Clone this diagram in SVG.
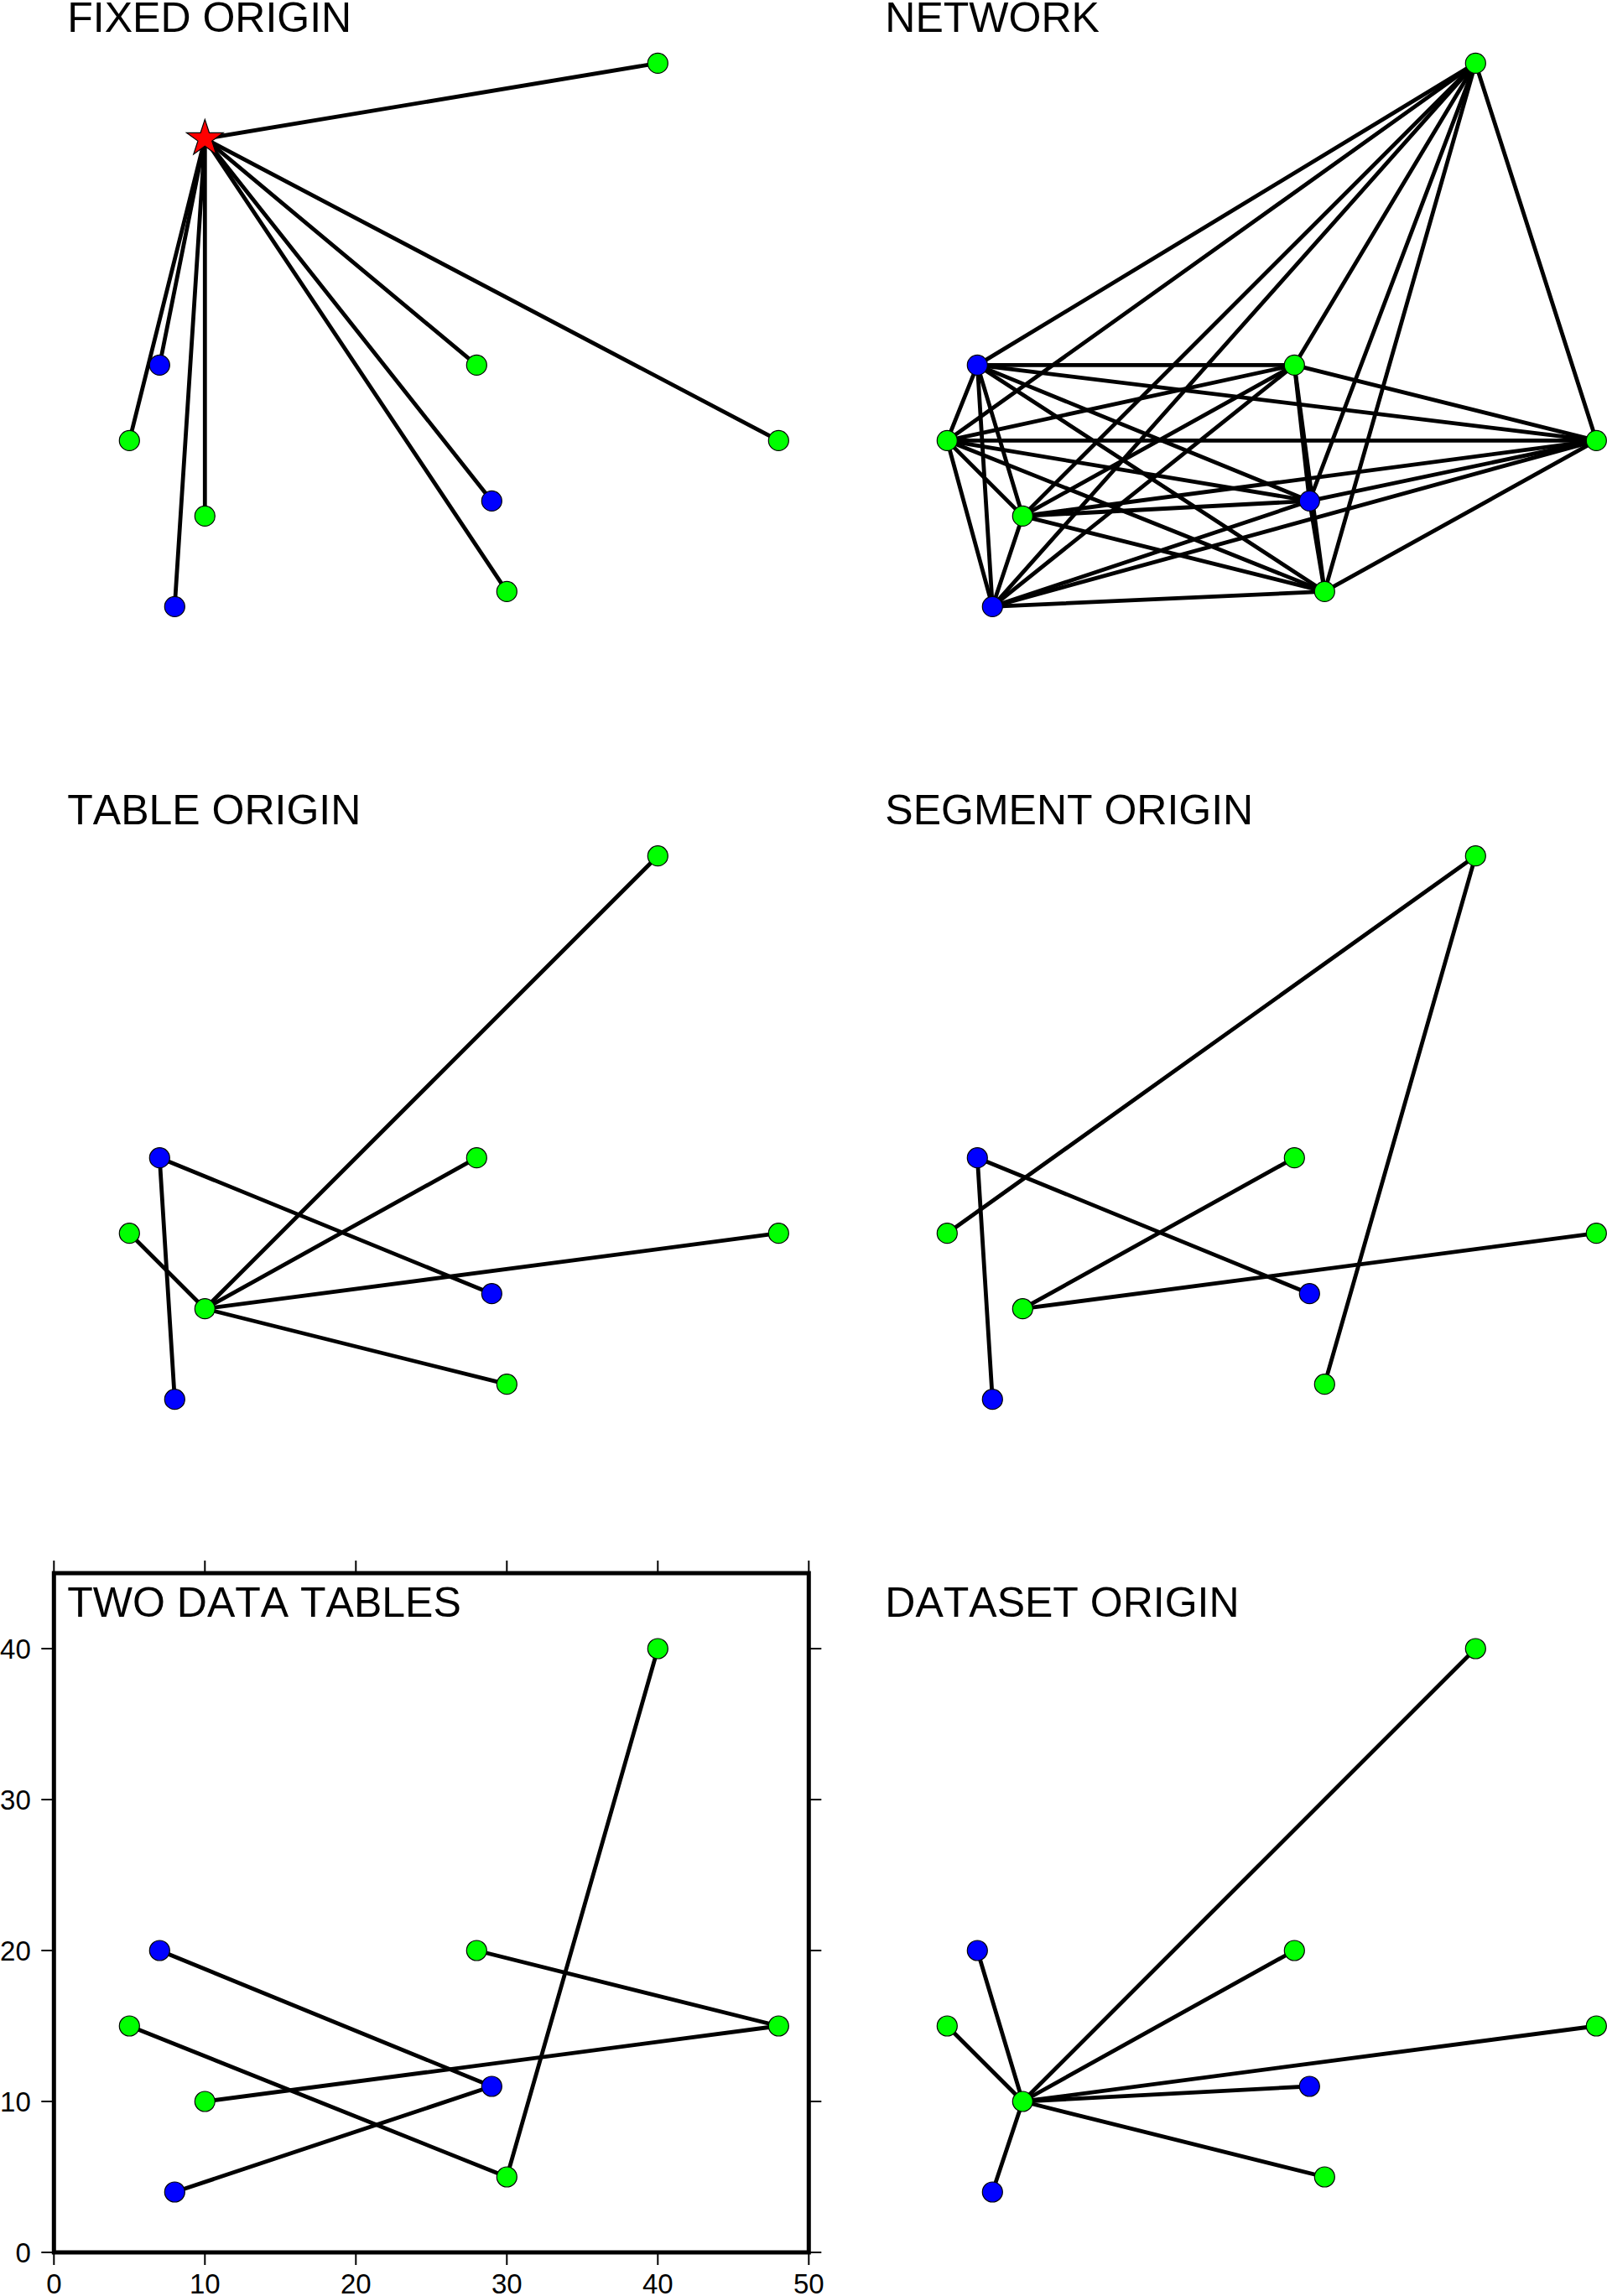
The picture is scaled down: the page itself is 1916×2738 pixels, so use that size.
<svg xmlns="http://www.w3.org/2000/svg" width="1916" height="2738" viewBox="0 0 1916 2738">
<style>
  .bg { fill: #ffffff; }
  .edge { stroke: #000000; stroke-width: 4.8; fill: none; stroke-linecap: round; }
  .g { fill: #00ff00; stroke: #000000; stroke-width: 1.2; }
  .b { fill: #0000ff; stroke: #000000; stroke-width: 1.2; }
  .star { fill: #ff0000; stroke: #000000; stroke-width: 1.2; stroke-linejoin: miter; }
  .title { font-family: "Liberation Sans", Arial, Helvetica, sans-serif; font-size: 50px; fill: #000000; font-kerning: none; }
  .lab { font-family: "Liberation Sans", Arial, Helvetica, sans-serif; font-size: 33px; fill: #000000; font-kerning: none; }
  .frame { fill: none; stroke: #000000; stroke-width: 5; stroke-linecap: square; }
  .tick { stroke: #000000; stroke-width: 2; }
</style>
<rect class="bg" x="0" y="0" width="1916" height="2738"/>

<!-- Panel 1: FIXED ORIGIN -->
<g id="panel-fixed" transform="translate(64.3,795.4)">
  <text class="title" x="16" y="-757.7">FIXED ORIGIN</text>
  <g id="fixed-connectors">
    <line class="edge" x1="180" y1="-630" x2="720" y2="-720"/>
    <line class="edge" x1="180" y1="-630" x2="504" y2="-360"/>
    <line class="edge" x1="180" y1="-630" x2="864" y2="-270"/>
    <line class="edge" x1="180" y1="-630" x2="90" y2="-270"/>
    <line class="edge" x1="180" y1="-630" x2="180" y2="-180"/>
    <line class="edge" x1="180" y1="-630" x2="540" y2="-90"/>
    <line class="edge" x1="180" y1="-630" x2="126" y2="-360"/>
    <line class="edge" x1="180" y1="-630" x2="522" y2="-198"/>
    <line class="edge" x1="180" y1="-630" x2="144" y2="-72"/>
  </g>
  <g id="fixed-nodes">
    <g id="fixed-g1"><circle class="g" cx="720" cy="-720" r="12"/></g>
    <g id="fixed-g2"><circle class="g" cx="504" cy="-360" r="12"/></g>
    <g id="fixed-g3"><circle class="g" cx="864" cy="-270" r="12"/></g>
    <g id="fixed-g4"><circle class="g" cx="90" cy="-270" r="12"/></g>
    <g id="fixed-g5"><circle class="g" cx="180" cy="-180" r="12"/></g>
    <g id="fixed-g6"><circle class="g" cx="540" cy="-90" r="12"/></g>
    <g id="fixed-b1"><circle class="b" cx="126" cy="-360" r="12"/></g>
    <g id="fixed-b2"><circle class="b" cx="522" cy="-198" r="12"/></g>
    <g id="fixed-b3"><circle class="b" cx="144" cy="-72" r="12"/></g>
    <g id="fixed-origin" transform="translate(180,-630)">
      <path class="star" d="M0,-23 L5.17,-7.12 L21.87,-7.11 L8.37,2.72 L13.52,18.61 L0,8.8 L-13.52,18.61 L-8.37,2.72 L-21.87,-7.11 L-5.17,-7.12 Z"/>
    </g>
  </g>
</g>

<!-- Panel 2: NETWORK -->
<g id="panel-network" transform="translate(1039.3,795.4)">
  <text class="title" x="16" y="-757.7">NETWORK</text>
  <g id="network-connectors">
    <line class="edge" x1="720" y1="-720" x2="504" y2="-360"/>
    <line class="edge" x1="720" y1="-720" x2="864" y2="-270"/>
    <line class="edge" x1="720" y1="-720" x2="90" y2="-270"/>
    <line class="edge" x1="720" y1="-720" x2="180" y2="-180"/>
    <line class="edge" x1="720" y1="-720" x2="540" y2="-90"/>
    <line class="edge" x1="720" y1="-720" x2="126" y2="-360"/>
    <line class="edge" x1="720" y1="-720" x2="522" y2="-198"/>
    <line class="edge" x1="720" y1="-720" x2="144" y2="-72"/>
    <line class="edge" x1="504" y1="-360" x2="864" y2="-270"/>
    <line class="edge" x1="504" y1="-360" x2="90" y2="-270"/>
    <line class="edge" x1="504" y1="-360" x2="180" y2="-180"/>
    <line class="edge" x1="504" y1="-360" x2="540" y2="-90"/>
    <line class="edge" x1="504" y1="-360" x2="126" y2="-360"/>
    <line class="edge" x1="504" y1="-360" x2="522" y2="-198"/>
    <line class="edge" x1="504" y1="-360" x2="144" y2="-72"/>
    <line class="edge" x1="864" y1="-270" x2="90" y2="-270"/>
    <line class="edge" x1="864" y1="-270" x2="180" y2="-180"/>
    <line class="edge" x1="864" y1="-270" x2="540" y2="-90"/>
    <line class="edge" x1="864" y1="-270" x2="126" y2="-360"/>
    <line class="edge" x1="864" y1="-270" x2="522" y2="-198"/>
    <line class="edge" x1="864" y1="-270" x2="144" y2="-72"/>
    <line class="edge" x1="90" y1="-270" x2="180" y2="-180"/>
    <line class="edge" x1="90" y1="-270" x2="540" y2="-90"/>
    <line class="edge" x1="90" y1="-270" x2="126" y2="-360"/>
    <line class="edge" x1="90" y1="-270" x2="522" y2="-198"/>
    <line class="edge" x1="90" y1="-270" x2="144" y2="-72"/>
    <line class="edge" x1="180" y1="-180" x2="540" y2="-90"/>
    <line class="edge" x1="180" y1="-180" x2="126" y2="-360"/>
    <line class="edge" x1="180" y1="-180" x2="522" y2="-198"/>
    <line class="edge" x1="180" y1="-180" x2="144" y2="-72"/>
    <line class="edge" x1="540" y1="-90" x2="126" y2="-360"/>
    <line class="edge" x1="540" y1="-90" x2="522" y2="-198"/>
    <line class="edge" x1="540" y1="-90" x2="144" y2="-72"/>
    <line class="edge" x1="126" y1="-360" x2="522" y2="-198"/>
    <line class="edge" x1="126" y1="-360" x2="144" y2="-72"/>
    <line class="edge" x1="522" y1="-198" x2="144" y2="-72"/>
  </g>
  <g id="network-nodes">
    <g id="network-g1"><circle class="g" cx="720" cy="-720" r="12"/></g>
    <g id="network-g2"><circle class="g" cx="504" cy="-360" r="12"/></g>
    <g id="network-g3"><circle class="g" cx="864" cy="-270" r="12"/></g>
    <g id="network-g4"><circle class="g" cx="90" cy="-270" r="12"/></g>
    <g id="network-g5"><circle class="g" cx="180" cy="-180" r="12"/></g>
    <g id="network-g6"><circle class="g" cx="540" cy="-90" r="12"/></g>
    <g id="network-b1"><circle class="b" cx="126" cy="-360" r="12"/></g>
    <g id="network-b2"><circle class="b" cx="522" cy="-198" r="12"/></g>
    <g id="network-b3"><circle class="b" cx="144" cy="-72" r="12"/></g>
  </g>
</g>

<!-- Panel 3: TABLE ORIGIN -->
<g id="panel-table" transform="translate(64.3,1740.7)">
  <text class="title" x="16" y="-757.7">TABLE ORIGIN</text>
  <g id="table-connectors">
    <line class="edge" x1="180" y1="-180" x2="720" y2="-720"/>
    <line class="edge" x1="180" y1="-180" x2="504" y2="-360"/>
    <line class="edge" x1="180" y1="-180" x2="864" y2="-270"/>
    <line class="edge" x1="180" y1="-180" x2="90" y2="-270"/>
    <line class="edge" x1="180" y1="-180" x2="540" y2="-90"/>
    <line class="edge" x1="126" y1="-360" x2="522" y2="-198"/>
    <line class="edge" x1="126" y1="-360" x2="144" y2="-72"/>
  </g>
  <g id="table-nodes">
    <g id="table-g1"><circle class="g" cx="720" cy="-720" r="12"/></g>
    <g id="table-g2"><circle class="g" cx="504" cy="-360" r="12"/></g>
    <g id="table-g3"><circle class="g" cx="864" cy="-270" r="12"/></g>
    <g id="table-g4"><circle class="g" cx="90" cy="-270" r="12"/></g>
    <g id="table-g5"><circle class="g" cx="180" cy="-180" r="12"/></g>
    <g id="table-g6"><circle class="g" cx="540" cy="-90" r="12"/></g>
    <g id="table-b1"><circle class="b" cx="126" cy="-360" r="12"/></g>
    <g id="table-b2"><circle class="b" cx="522" cy="-198" r="12"/></g>
    <g id="table-b3"><circle class="b" cx="144" cy="-72" r="12"/></g>
  </g>
</g>

<!-- Panel 4: SEGMENT ORIGIN -->
<g id="panel-segment" transform="translate(1039.3,1740.7)">
  <text class="title" x="16" y="-757.7">SEGMENT ORIGIN</text>
  <g id="segment-connectors">
    <line class="edge" x1="720" y1="-720" x2="90" y2="-270"/>
    <line class="edge" x1="720" y1="-720" x2="540" y2="-90"/>
    <line class="edge" x1="180" y1="-180" x2="504" y2="-360"/>
    <line class="edge" x1="180" y1="-180" x2="864" y2="-270"/>
    <line class="edge" x1="126" y1="-360" x2="522" y2="-198"/>
    <line class="edge" x1="126" y1="-360" x2="144" y2="-72"/>
  </g>
  <g id="segment-nodes">
    <g id="segment-g1"><circle class="g" cx="720" cy="-720" r="12"/></g>
    <g id="segment-g2"><circle class="g" cx="504" cy="-360" r="12"/></g>
    <g id="segment-g3"><circle class="g" cx="864" cy="-270" r="12"/></g>
    <g id="segment-g4"><circle class="g" cx="90" cy="-270" r="12"/></g>
    <g id="segment-g5"><circle class="g" cx="180" cy="-180" r="12"/></g>
    <g id="segment-g6"><circle class="g" cx="540" cy="-90" r="12"/></g>
    <g id="segment-b1"><circle class="b" cx="126" cy="-360" r="12"/></g>
    <g id="segment-b2"><circle class="b" cx="522" cy="-198" r="12"/></g>
    <g id="segment-b3"><circle class="b" cx="144" cy="-72" r="12"/></g>
  </g>
</g>

<!-- Panel 5: TWO DATA TABLES (with axes) -->
<g id="panel-two" transform="translate(64.3,2686)">
  <g id="two-axes">
    <rect class="frame" x="0" y="-810" width="900" height="810"/>
    <g class="tick">
      <line x1="0" y1="0" x2="0" y2="15"/>
      <line x1="180" y1="0" x2="180" y2="15"/>
      <line x1="360" y1="0" x2="360" y2="15"/>
      <line x1="540" y1="0" x2="540" y2="15"/>
      <line x1="720" y1="0" x2="720" y2="15"/>
      <line x1="900" y1="0" x2="900" y2="15"/>
      <line x1="0" y1="-810" x2="0" y2="-825"/>
      <line x1="180" y1="-810" x2="180" y2="-825"/>
      <line x1="360" y1="-810" x2="360" y2="-825"/>
      <line x1="540" y1="-810" x2="540" y2="-825"/>
      <line x1="720" y1="-810" x2="720" y2="-825"/>
      <line x1="900" y1="-810" x2="900" y2="-825"/>
      <line x1="0" y1="0" x2="-15" y2="0"/>
      <line x1="0" y1="-180" x2="-15" y2="-180"/>
      <line x1="0" y1="-360" x2="-15" y2="-360"/>
      <line x1="0" y1="-540" x2="-15" y2="-540"/>
      <line x1="0" y1="-720" x2="-15" y2="-720"/>
      <line x1="900" y1="0" x2="915" y2="0"/>
      <line x1="900" y1="-180" x2="915" y2="-180"/>
      <line x1="900" y1="-360" x2="915" y2="-360"/>
      <line x1="900" y1="-540" x2="915" y2="-540"/>
      <line x1="900" y1="-720" x2="915" y2="-720"/>
    </g>
    <g class="lab" text-anchor="middle">
      <text x="0" y="49">0</text>
      <text x="180" y="49">10</text>
      <text x="360" y="49">20</text>
      <text x="540" y="49">30</text>
      <text x="720" y="49">40</text>
      <text x="900" y="49">50</text>
    </g>
    <g class="lab" text-anchor="end">
      <text x="-27.5" y="11.8">0</text>
      <text x="-27.5" y="-168.2">10</text>
      <text x="-27.5" y="-348.2">20</text>
      <text x="-27.5" y="-528.2">30</text>
      <text x="-27.5" y="-708.2">40</text>
    </g>
  </g>
  <text class="title" x="16" y="-757.7">TWO DATA TABLES</text>
  <g id="two-connectors">
    <line class="edge" x1="126" y1="-360" x2="522" y2="-198"/>
    <line class="edge" x1="90" y1="-270" x2="540" y2="-90"/>
    <line class="edge" x1="180" y1="-180" x2="864" y2="-270"/>
    <line class="edge" x1="144" y1="-72" x2="522" y2="-198"/>
    <line class="edge" x1="504" y1="-360" x2="864" y2="-270"/>
    <line class="edge" x1="540" y1="-90" x2="720" y2="-720"/>
  </g>
  <g id="two-nodes">
    <g id="two-g1"><circle class="g" cx="720" cy="-720" r="12"/></g>
    <g id="two-g2"><circle class="g" cx="504" cy="-360" r="12"/></g>
    <g id="two-g3"><circle class="g" cx="864" cy="-270" r="12"/></g>
    <g id="two-g4"><circle class="g" cx="90" cy="-270" r="12"/></g>
    <g id="two-g5"><circle class="g" cx="180" cy="-180" r="12"/></g>
    <g id="two-g6"><circle class="g" cx="540" cy="-90" r="12"/></g>
    <g id="two-b1"><circle class="b" cx="126" cy="-360" r="12"/></g>
    <g id="two-b2"><circle class="b" cx="522" cy="-198" r="12"/></g>
    <g id="two-b3"><circle class="b" cx="144" cy="-72" r="12"/></g>
  </g>
</g>

<!-- Panel 6: DATASET ORIGIN -->
<g id="panel-dataset" transform="translate(1039.3,2686)">
  <text class="title" x="16" y="-757.7">DATASET ORIGIN</text>
  <g id="dataset-connectors">
    <line class="edge" x1="180" y1="-180" x2="720" y2="-720"/>
    <line class="edge" x1="180" y1="-180" x2="504" y2="-360"/>
    <line class="edge" x1="180" y1="-180" x2="864" y2="-270"/>
    <line class="edge" x1="180" y1="-180" x2="90" y2="-270"/>
    <line class="edge" x1="180" y1="-180" x2="540" y2="-90"/>
    <line class="edge" x1="180" y1="-180" x2="126" y2="-360"/>
    <line class="edge" x1="180" y1="-180" x2="522" y2="-198"/>
    <line class="edge" x1="180" y1="-180" x2="144" y2="-72"/>
  </g>
  <g id="dataset-nodes">
    <g id="dataset-g1"><circle class="g" cx="720" cy="-720" r="12"/></g>
    <g id="dataset-g2"><circle class="g" cx="504" cy="-360" r="12"/></g>
    <g id="dataset-g3"><circle class="g" cx="864" cy="-270" r="12"/></g>
    <g id="dataset-g4"><circle class="g" cx="90" cy="-270" r="12"/></g>
    <g id="dataset-g5"><circle class="g" cx="180" cy="-180" r="12"/></g>
    <g id="dataset-g6"><circle class="g" cx="540" cy="-90" r="12"/></g>
    <g id="dataset-b1"><circle class="b" cx="126" cy="-360" r="12"/></g>
    <g id="dataset-b2"><circle class="b" cx="522" cy="-198" r="12"/></g>
    <g id="dataset-b3"><circle class="b" cx="144" cy="-72" r="12"/></g>
  </g>
</g>
</svg>
